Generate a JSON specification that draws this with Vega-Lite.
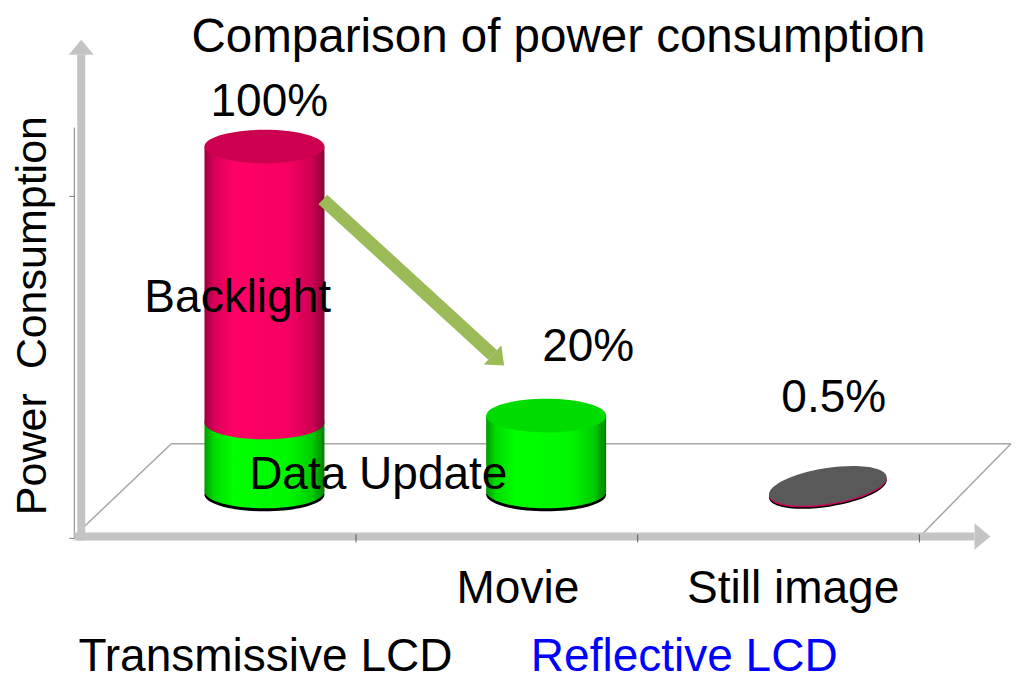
{
  "$schema": "https://vega.github.io/schema/vega-lite/v6.json",
  "width": 1016,
  "height": 680,
  "autosize": {"type": "fit", "contains": "padding"},
  "padding": 0,
  "background": "white",
  "config": {"view": {"stroke": null}, "font": "Liberation Sans"},
  "datasets": {
    "bars": [
      {"device": "Transmissive LCD", "part": "Data Update", "slot": 0.675, "from": 0, "to": 20},
      {"device": "Transmissive LCD", "part": "Backlight", "slot": 0.675, "from": 20, "to": 100},
      {"device": "Reflective LCD", "part": "Movie", "slot": 1.675, "from": 0, "to": 22},
      {"device": "Reflective LCD", "part": "Still image", "slot": 2.675, "from": 0, "to": 0.5}
    ],
    "floor": [
      {"x": 0.0281, "y": -10.69, "x2": 0.3445, "y2": 13.87},
      {"x": 0.3445, "y": 13.87, "x2": 3.3251, "y2": 13.87},
      {"x": 3.3251, "y": 13.87, "x2": 3.0123, "y2": -12.14}
    ],
    "thin": [
      {"x": 0, "y": 105.49, "x2": 0, "y2": -13.58},
      {"x": -0.0176, "y": 85.55, "x2": 0, "y2": 85.55},
      {"x": -0.0176, "y": -13.58, "x2": 0, "y2": -13.58}
    ],
    "thick": [
      {"x": 0.0246, "y": -14.16, "x2": 0.0246, "y2": 126.59},
      {"x": 0, "y": -13.01, "x2": 3.195, "y2": -13.01}
    ],
    "xticks": [
      {"x": 1, "y": -12.43, "x2": 1, "y2": -14.74},
      {"x": 2, "y": -12.43, "x2": 2, "y2": -14.74},
      {"x": 3, "y": -12.43, "x2": 3, "y2": -14.74}
    ],
    "heads": [
      {"name": "yaxis", "x": 0.0246, "y": 127.31},
      {"name": "xaxis", "x": 3.2049, "y": -13.01},
      {"name": "trend", "x": 1.4917, "y": 39.08}
    ],
    "shaft": [
      {"x": 0.8822, "y": 84.68, "x2": 1.4851, "y2": 39.6}
    ],
    "title": [
      {"text": "Comparison of power consumption", "x": 1.7188, "y": 127.46}
    ],
    "labels": [
      {"text": "100%", "x": 0.6924, "y": 108.96},
      {"text": "Backlight", "x": 0.58, "y": 52.02},
      {"text": "Data Update", "x": 1.0791, "y": 0.867},
      {"text": "20%", "x": 1.8243, "y": 37.86},
      {"text": "0.5%", "x": 2.696, "y": 23.12},
      {"text": "Movie", "x": 1.5747, "y": -32.37},
      {"text": "Still image", "x": 2.5518, "y": -32.37},
      {"text": "Transmissive LCD", "x": 0.6784, "y": -52.02}
    ],
    "blue": [
      {"text": "Reflective LCD", "x": 2.1652, "y": -52.02}
    ],
    "ytitle": [
      {"text": "Power\u00a0\u00a0Consumption", "x": -0.1019, "y": 51.01}
    ]
  },
  "layer": [
    {
      "data": {"name": "floor"},
      "mark": {"type": "rule", "color": "#A6A6A6", "strokeWidth": 1.5},
      "encoding": {
        "x": {"field": "x", "type": "quantitative", "scale": {"domain": [-0.24605, 3.32513], "nice": false, "zero": false}, "axis": null},
        "y": {"field": "y", "type": "quantitative", "scale": {"domain": [-54.05, 142.49], "nice": false, "zero": false}, "axis": null},
        "x2": {"field": "x2"},
        "y2": {"field": "y2"}
      }
    },
    {
      "data": {"name": "thin"},
      "mark": {"type": "rule", "color": "#7F7F7F", "strokeWidth": 1},
      "encoding": {
        "x": {"field": "x", "type": "quantitative", "scale": {"domain": [-0.24605, 3.32513], "nice": false, "zero": false}, "axis": null},
        "y": {"field": "y", "type": "quantitative", "scale": {"domain": [-54.05, 142.49], "nice": false, "zero": false}, "axis": null},
        "x2": {"field": "x2"},
        "y2": {"field": "y2"}
      }
    },
    {
      "data": {"name": "thick"},
      "mark": {"type": "rule", "color": "#C4C4C4", "strokeWidth": 8, "strokeCap": "butt"},
      "encoding": {
        "x": {"field": "x", "type": "quantitative", "scale": {"domain": [-0.24605, 3.32513], "nice": false, "zero": false}, "axis": null},
        "y": {"field": "y", "type": "quantitative", "scale": {"domain": [-54.05, 142.49], "nice": false, "zero": false}, "axis": null},
        "x2": {"field": "x2"},
        "y2": {"field": "y2"}
      }
    },
    {
      "data": {"name": "heads"},
      "transform": [{"filter": "datum.name == 'yaxis'"}],
      "mark": {"type": "point", "shape": "M 1 0 L -0.2 -1 L -0.2 1 Z", "size": 625, "angle": 270, "filled": true, "opacity": 1, "color": "#C4C4C4", "strokeWidth": 0},
      "encoding": {
        "x": {"field": "x", "type": "quantitative", "scale": {"domain": [-0.24605, 3.32513], "nice": false, "zero": false}, "axis": null},
        "y": {"field": "y", "type": "quantitative", "scale": {"domain": [-54.05, 142.49], "nice": false, "zero": false}, "axis": null}
      }
    },
    {
      "data": {"name": "heads"},
      "transform": [{"filter": "datum.name == 'xaxis'"}],
      "mark": {"type": "point", "shape": "M 1 0 L -0.2 -1 L -0.2 1 Z", "size": 700, "angle": 0, "filled": true, "opacity": 1, "color": "#C4C4C4", "strokeWidth": 0},
      "encoding": {
        "x": {"field": "x", "type": "quantitative", "scale": {"domain": [-0.24605, 3.32513], "nice": false, "zero": false}, "axis": null},
        "y": {"field": "y", "type": "quantitative", "scale": {"domain": [-54.05, 142.49], "nice": false, "zero": false}, "axis": null}
      }
    },
    {
      "data": {"name": "xticks"},
      "mark": {"type": "rule", "color": "#595959", "strokeWidth": 1},
      "encoding": {
        "x": {"field": "x", "type": "quantitative", "scale": {"domain": [-0.24605, 3.32513], "nice": false, "zero": false}, "axis": null},
        "y": {"field": "y", "type": "quantitative", "scale": {"domain": [-54.05, 142.49], "nice": false, "zero": false}, "axis": null},
        "x2": {"field": "x2"},
        "y2": {"field": "y2"}
      }
    },
    {
      "data": {"name": "bars"},
      "transform": [{"filter": "datum.part == 'Data Update' || datum.part == 'Movie'"}],
      "mark": {"type": "point", "shape": "M -1 0 A 1 0.28 0 1 0 1 0 A 1 0.28 0 1 0 -1 0 Z", "size": 14400, "filled": true, "opacity": 1, "color": "#000000", "strokeWidth": 0, "yOffset": 3},
      "encoding": {
        "x": {"field": "slot", "type": "quantitative", "scale": {"domain": [-0.24605, 3.32513], "nice": false, "zero": false}, "axis": null},
        "y": {"field": "from", "type": "quantitative", "scale": {"domain": [-54.05, 142.49], "nice": false, "zero": false}, "axis": null}
      }
    },
    {
      "data": {"name": "bars"},
      "transform": [{"filter": "datum.part == 'Data Update' || datum.part == 'Movie'"}],
      "mark": {"type": "point", "shape": "M -1 0 A 1 0.28 0 1 0 1 0 A 1 0.28 0 1 0 -1 0 Z", "size": 14400, "filled": true, "opacity": 1, "strokeWidth": 0,
        "color": {"gradient": "linear", "x1": 0, "y1": 0, "x2": 1, "y2": 0, "stops": [
          {"offset": 0, "color": "#009A00"}, {"offset": 0.08, "color": "#00DD00"}, {"offset": 0.25, "color": "#00FF00"},
          {"offset": 0.7, "color": "#00F800"}, {"offset": 0.9, "color": "#00CC00"}, {"offset": 1, "color": "#008000"}]}},
      "encoding": {
        "x": {"field": "slot", "type": "quantitative", "scale": {"domain": [-0.24605, 3.32513], "nice": false, "zero": false}, "axis": null},
        "y": {"field": "from", "type": "quantitative", "scale": {"domain": [-54.05, 142.49], "nice": false, "zero": false}, "axis": null}
      }
    },
    {
      "data": {"name": "bars"},
      "transform": [{"filter": "datum.part == 'Data Update' || datum.part == 'Movie'"}],
      "mark": {"type": "bar", "orient": "vertical", "width": 120, "cornerRadius": 0, "strokeWidth": 0,
        "color": {"gradient": "linear", "x1": 0, "y1": 0, "x2": 1, "y2": 0, "stops": [
          {"offset": 0, "color": "#009A00"}, {"offset": 0.08, "color": "#00DD00"}, {"offset": 0.25, "color": "#00FF00"},
          {"offset": 0.7, "color": "#00F800"}, {"offset": 0.9, "color": "#00CC00"}, {"offset": 1, "color": "#008000"}]}},
      "encoding": {
        "x": {"field": "slot", "type": "quantitative", "scale": {"domain": [-0.24605, 3.32513], "nice": false, "zero": false}, "axis": null},
        "y": {"field": "from", "type": "quantitative", "scale": {"domain": [-54.05, 142.49], "nice": false, "zero": false}, "axis": null},
        "y2": {"field": "to"}
      }
    },
    {
      "data": {"name": "bars"},
      "transform": [{"filter": "datum.part == 'Backlight'"}],
      "mark": {"type": "point", "shape": "M -1 0 A 1 0.28 0 1 0 1 0 A 1 0.28 0 1 0 -1 0 Z", "size": 14400, "filled": true, "opacity": 1, "strokeWidth": 0,
        "color": {"gradient": "linear", "x1": 0, "y1": 0, "x2": 1, "y2": 0, "stops": [
          {"offset": 0, "color": "#9A003C"}, {"offset": 0.08, "color": "#D8005A"}, {"offset": 0.25, "color": "#FF0066"},
          {"offset": 0.7, "color": "#F50062"}, {"offset": 0.9, "color": "#CC0052"}, {"offset": 1, "color": "#880036"}]}},
      "encoding": {
        "x": {"field": "slot", "type": "quantitative", "scale": {"domain": [-0.24605, 3.32513], "nice": false, "zero": false}, "axis": null},
        "y": {"field": "from", "type": "quantitative", "scale": {"domain": [-54.05, 142.49], "nice": false, "zero": false}, "axis": null}
      }
    },
    {
      "data": {"name": "bars"},
      "transform": [{"filter": "datum.part == 'Backlight'"}],
      "mark": {"type": "bar", "orient": "vertical", "width": 120, "cornerRadius": 0, "strokeWidth": 0,
        "color": {"gradient": "linear", "x1": 0, "y1": 0, "x2": 1, "y2": 0, "stops": [
          {"offset": 0, "color": "#9A003C"}, {"offset": 0.08, "color": "#D8005A"}, {"offset": 0.25, "color": "#FF0066"},
          {"offset": 0.7, "color": "#F50062"}, {"offset": 0.9, "color": "#CC0052"}, {"offset": 1, "color": "#880036"}]}},
      "encoding": {
        "x": {"field": "slot", "type": "quantitative", "scale": {"domain": [-0.24605, 3.32513], "nice": false, "zero": false}, "axis": null},
        "y": {"field": "from", "type": "quantitative", "scale": {"domain": [-54.05, 142.49], "nice": false, "zero": false}, "axis": null},
        "y2": {"field": "to"}
      }
    },
    {
      "data": {"name": "bars"},
      "transform": [{"filter": "datum.part == 'Backlight'"}],
      "mark": {"type": "point", "shape": "M -1 0 A 1 0.28 0 1 0 1 0 A 1 0.28 0 1 0 -1 0 Z", "size": 14400, "filled": true, "opacity": 1, "strokeWidth": 0, "color": "#CC004F"},
      "encoding": {
        "x": {"field": "slot", "type": "quantitative", "scale": {"domain": [-0.24605, 3.32513], "nice": false, "zero": false}, "axis": null},
        "y": {"field": "to", "type": "quantitative", "scale": {"domain": [-54.05, 142.49], "nice": false, "zero": false}, "axis": null}
      }
    },
    {
      "data": {"name": "bars"},
      "transform": [{"filter": "datum.part == 'Movie'"}],
      "mark": {"type": "point", "shape": "M -1 0 A 1 0.28 0 1 0 1 0 A 1 0.28 0 1 0 -1 0 Z", "size": 14400, "filled": true, "opacity": 1, "strokeWidth": 0, "color": "#00DC00"},
      "encoding": {
        "x": {"field": "slot", "type": "quantitative", "scale": {"domain": [-0.24605, 3.32513], "nice": false, "zero": false}, "axis": null},
        "y": {"field": "to", "type": "quantitative", "scale": {"domain": [-54.05, 142.49], "nice": false, "zero": false}, "axis": null}
      }
    },
    {
      "data": {"name": "bars"},
      "transform": [{"filter": "datum.part == 'Still image'"}],
      "mark": {"type": "point", "shape": "M -1 0 A 1 0.3 0 1 0 1 0 A 1 0.3 0 1 0 -1 0 Z", "size": 14161, "angle": 351, "filled": true, "opacity": 1, "strokeWidth": 0, "color": "#000000", "yOffset": -1},
      "encoding": {
        "x": {"field": "slot", "type": "quantitative", "scale": {"domain": [-0.24605, 3.32513], "nice": false, "zero": false}, "axis": null},
        "y": {"field": "to", "type": "quantitative", "scale": {"domain": [-54.05, 142.49], "nice": false, "zero": false}, "axis": null}
      }
    },
    {
      "data": {"name": "bars"},
      "transform": [{"filter": "datum.part == 'Still image'"}],
      "mark": {"type": "point", "shape": "M -1 0 A 1 0.3 0 1 0 1 0 A 1 0.3 0 1 0 -1 0 Z", "size": 14161, "angle": 351, "filled": true, "opacity": 1, "strokeWidth": 0, "color": "#D0005A", "yOffset": -2.5},
      "encoding": {
        "x": {"field": "slot", "type": "quantitative", "scale": {"domain": [-0.24605, 3.32513], "nice": false, "zero": false}, "axis": null},
        "y": {"field": "to", "type": "quantitative", "scale": {"domain": [-54.05, 142.49], "nice": false, "zero": false}, "axis": null}
      }
    },
    {
      "data": {"name": "bars"},
      "transform": [{"filter": "datum.part == 'Still image'"}],
      "mark": {"type": "point", "shape": "M -1 0 A 1 0.3 0 1 0 1 0 A 1 0.3 0 1 0 -1 0 Z", "size": 14161, "angle": 351, "filled": true, "opacity": 1, "strokeWidth": 0, "color": "#595959", "yOffset": -4},
      "encoding": {
        "x": {"field": "slot", "type": "quantitative", "scale": {"domain": [-0.24605, 3.32513], "nice": false, "zero": false}, "axis": null},
        "y": {"field": "to", "type": "quantitative", "scale": {"domain": [-54.05, 142.49], "nice": false, "zero": false}, "axis": null}
      }
    },
    {
      "data": {"name": "shaft"},
      "mark": {"type": "rule", "color": "#9BBB59", "strokeWidth": 13, "strokeCap": "butt"},
      "encoding": {
        "x": {"field": "x", "type": "quantitative", "scale": {"domain": [-0.24605, 3.32513], "nice": false, "zero": false}, "axis": null},
        "y": {"field": "y", "type": "quantitative", "scale": {"domain": [-54.05, 142.49], "nice": false, "zero": false}, "axis": null},
        "x2": {"field": "x2"},
        "y2": {"field": "y2"}
      }
    },
    {
      "data": {"name": "heads"},
      "transform": [{"filter": "datum.name == 'trend'"}],
      "mark": {"type": "point", "shape": "M 1 0 L -0.2 -1 L -0.2 1 Z", "size": 676, "angle": 42.3, "filled": true, "opacity": 1, "color": "#9BBB59", "strokeWidth": 0},
      "encoding": {
        "x": {"field": "x", "type": "quantitative", "scale": {"domain": [-0.24605, 3.32513], "nice": false, "zero": false}, "axis": null},
        "y": {"field": "y", "type": "quantitative", "scale": {"domain": [-54.05, 142.49], "nice": false, "zero": false}, "axis": null}
      }
    },
    {
      "data": {"name": "title"},
      "mark": {"type": "text", "font": "Liberation Sans", "fontSize": 47.5, "color": "#000000", "align": "center", "baseline": "alphabetic"},
      "encoding": {
        "x": {"field": "x", "type": "quantitative", "scale": {"domain": [-0.24605, 3.32513], "nice": false, "zero": false}, "axis": null},
        "y": {"field": "y", "type": "quantitative", "scale": {"domain": [-54.05, 142.49], "nice": false, "zero": false}, "axis": null},
        "text": {"field": "text"}
      }
    },
    {
      "data": {"name": "labels"},
      "mark": {"type": "text", "font": "Liberation Sans", "fontSize": 46, "color": "#000000", "align": "center", "baseline": "alphabetic"},
      "encoding": {
        "x": {"field": "x", "type": "quantitative", "scale": {"domain": [-0.24605, 3.32513], "nice": false, "zero": false}, "axis": null},
        "y": {"field": "y", "type": "quantitative", "scale": {"domain": [-54.05, 142.49], "nice": false, "zero": false}, "axis": null},
        "text": {"field": "text"}
      }
    },
    {
      "data": {"name": "blue"},
      "mark": {"type": "text", "font": "Liberation Sans", "fontSize": 46, "color": "#0000FF", "align": "center", "baseline": "alphabetic"},
      "encoding": {
        "x": {"field": "x", "type": "quantitative", "scale": {"domain": [-0.24605, 3.32513], "nice": false, "zero": false}, "axis": null},
        "y": {"field": "y", "type": "quantitative", "scale": {"domain": [-54.05, 142.49], "nice": false, "zero": false}, "axis": null},
        "text": {"field": "text"}
      }
    },
    {
      "data": {"name": "ytitle"},
      "mark": {"type": "text", "font": "Liberation Sans", "fontSize": 43, "color": "#000000", "align": "center", "baseline": "alphabetic", "angle": 270},
      "encoding": {
        "x": {"field": "x", "type": "quantitative", "scale": {"domain": [-0.24605, 3.32513], "nice": false, "zero": false}, "axis": null},
        "y": {"field": "y", "type": "quantitative", "scale": {"domain": [-54.05, 142.49], "nice": false, "zero": false}, "axis": null},
        "text": {"field": "text"}
      }
    }
  ]
}
